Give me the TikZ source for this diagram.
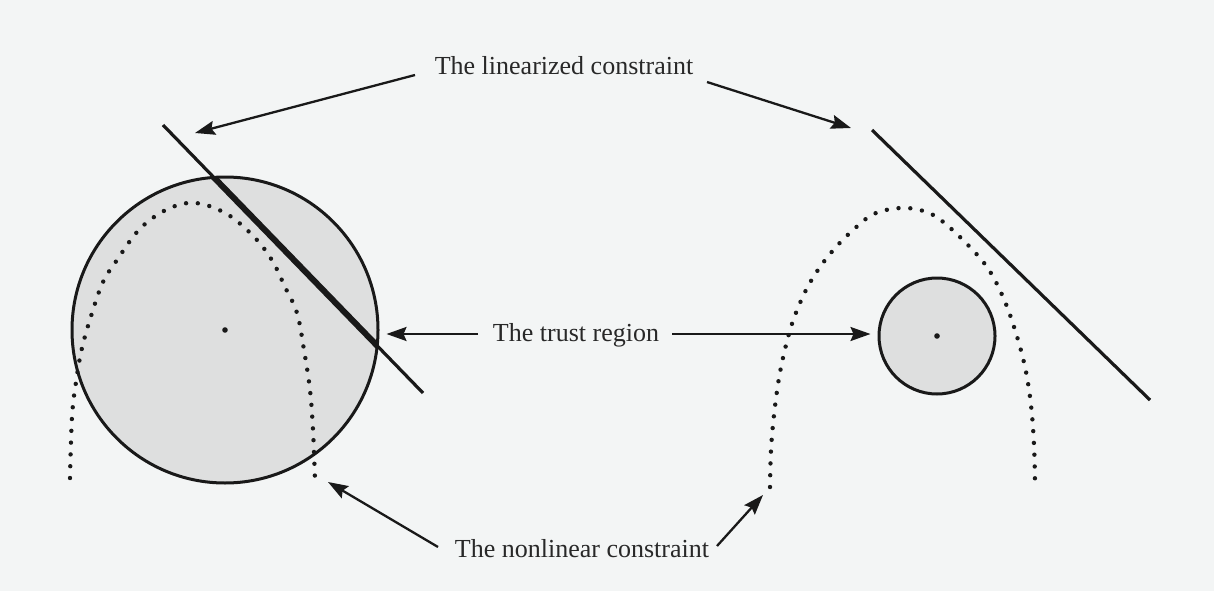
\documentclass[tikz,border=0pt]{standalone}
\usepackage{fontspec}
\setmainfont{Liberation Serif}
\usetikzlibrary{arrows.meta}
\definecolor{paper}{RGB}{243,245,245}
\definecolor{discgray}{RGB}{222,223,223}
\definecolor{ink}{RGB}{25,25,25}
\definecolor{label}{RGB}{40,40,40}
\begin{document}
\begin{tikzpicture}[x=1pt,y=-1pt,
  lbl/.style={text=label,font=\fontsize{26}{30}\selectfont,inner sep=0pt,anchor=base},
  region/.style={circle,draw=ink,line width=3pt,inner sep=0pt},
  pointer/.style={draw=ink,line width=2.3pt,-{Stealth[length=20pt,width=14pt,inset=3pt]}},
  constraint/.style={draw=ink,line width=3.2pt},
  dotline/.style={draw=ink,line width=4.4pt,line cap=round,dash pattern=on 0pt off 11.8pt}]
  % page
  \fill[paper] (0,0) rectangle (1214,591);
  \useasboundingbox (0,0) rectangle (1214,591);

  % trust regions (filled first, outlines drawn last)
  \fill[discgray] (225,330) circle[radius=153];
  \fill[discgray] (937,336) circle[radius=58];

  % nonlinear constraints
  \draw[dotline] plot[smooth,tension=0.6] coordinates {
    (70,478) (72,417) (76,382) (82,348) (92,313) (103,282) (117,260)
    (137,232) (157,215) (178,205) (195,203) (212,207) (233,218)
    (257,240) (273,262) (285,287) (297,313) (304,350) (310,390)
    (313,430) (315,480)};
  \draw[dotline] plot[smooth,tension=0.6] coordinates {
    (770,487) (771,450) (774,415) (779,378) (786,345) (794,318)
    (806,290) (820,267) (836,247) (852,231) (870,216) (886,210)
    (903,208) (920,210) (938,218) (963,240) (987,267) (1003,297)
    (1015,330) (1025,367) (1031,405) (1034,445) (1035,483)};

  % linearized constraints
  \draw[constraint] (163,125) -- (423,393);
  \begin{scope}
    \clip (225,330) circle[radius=153];
    \draw[ink,line width=6pt] (163,125) -- (423,393);
  \end{scope}
  \draw[constraint] (872,130) -- (1150,400);

  % region outlines and centres
  \node[region,minimum size=306pt] (big) at (225,330) {};
  \node[region,minimum size=116pt] (small) at (937,336) {};
  \fill[ink] (big.center) circle[radius=2.8];
  \fill[ink] (small.center) circle[radius=2.8];

  % labels
  \node[lbl] (lin) at (564,75) {The linearized constraint};
  \node[lbl] (tr) at (576,341) {The trust region};
  \node[lbl] (nl) at (582,557) {The nonlinear constraint};

  % arrow ends
  \coordinate (linA) at (415,75);
  \coordinate (linB) at (707,82);
  \coordinate (linL) at (195,133);
  \coordinate (linR) at (851,128);
  \coordinate (trA) at (478,334);
  \coordinate (trB) at (672,334);
  \coordinate (nlA) at (438,547);
  \coordinate (nlB) at (717,546);
  \coordinate (nlL) at (328,482);
  \coordinate (nlR) at (763,495);

  \draw[pointer] (linA) -- (linL);
  \draw[pointer] (linB) -- (linR);
  \draw[pointer] (trA) -- ([xshift=7pt]big.east |- trA);
  \draw[pointer] (trB) -- ([xshift=-7pt]small.west |- trB);
  \draw[pointer] (nlA) -- (nlL);
  \draw[pointer] (nlB) -- (nlR);
\end{tikzpicture}
\end{document}
